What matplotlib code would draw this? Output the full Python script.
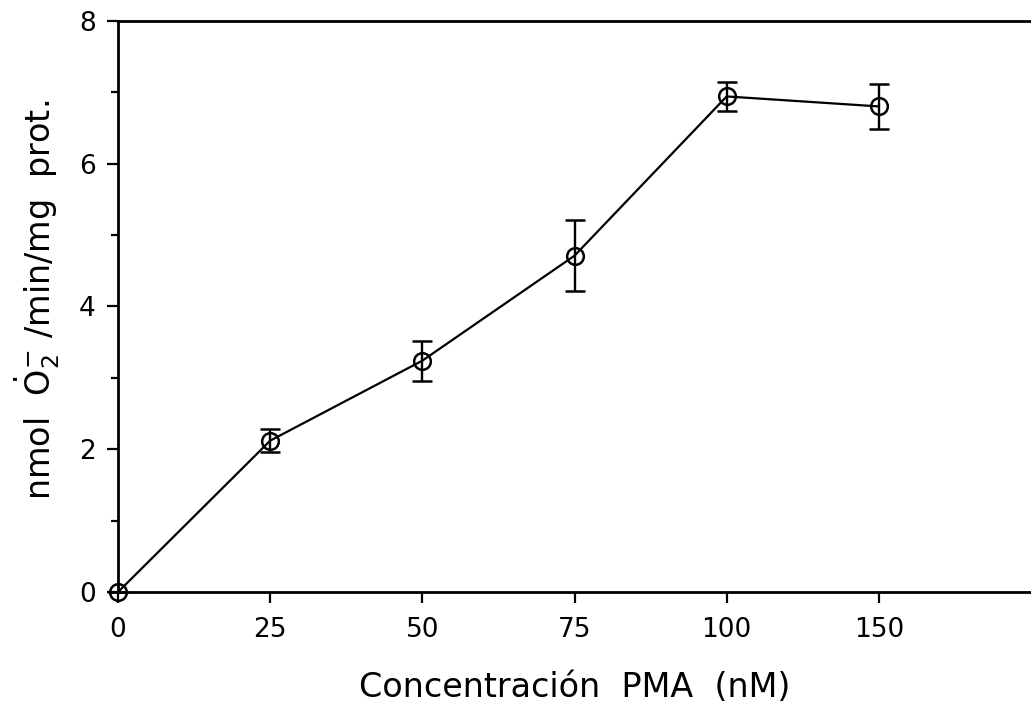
import matplotlib
matplotlib.use("Agg")
import matplotlib.pyplot as plt

# PMA concentration (nM) and superoxide production (nmol O2-/min/mg prot.)
concentrations = ["0", "25", "50", "75", "100", "150"]
production = [0.0, 2.12, 3.24, 4.71, 6.94, 6.80]
production_err = [0.0, 0.16, 0.28, 0.50, 0.20, 0.32]
y_ticks = [0, 2, 4, 6, 8]
y_minor = [1, 3, 5, 7]

plt.rcParams["font.family"] = ["DejaVu Sans"]

fig = plt.figure(figsize=(10.31, 7.15), dpi=100)
ax = fig.add_axes([0.1145, 0.172, 0.8855, 0.799])

xpos = list(range(len(concentrations)))
ax.errorbar(xpos, production, yerr=production_err, fmt="-o", color="black",
            mfc="none", mec="black", ms=12, mew=1.8, lw=1.6,
            elinewidth=1.7, capsize=7, capthick=1.9, zorder=3, clip_on=False)

ax.set_xlim(0, 6)
ax.set_ylim(0, 8)
ax.set_xticks(xpos)
ax.set_xticklabels(concentrations)
ax.set_yticks(y_ticks)
ax.set_yticks(y_minor, minor=True)

for side in ("left", "bottom", "top"):
    ax.spines[side].set_linewidth(2.0)
ax.spines["right"].set_visible(False)

ax.tick_params(axis="both", which="major", direction="out", length=8,
               width=1.6, labelsize=19, pad=10)
ax.tick_params(axis="y", which="minor", direction="out", length=5, width=1.6)
ax.tick_params(axis="y", which="major", pad=8)

ax.set_xlabel("Concentración  PMA  (nM)", fontsize=24)
ax.set_ylabel(r"nmol  $\dot{\mathrm{O}}_2^{-}$ /min/mg  prot.", fontsize=24)
ax.xaxis.set_label_coords(0.5, -0.138)
ax.yaxis.set_label_coords(-0.061, 0.511)

fig.savefig("out.png", dpi=100)
